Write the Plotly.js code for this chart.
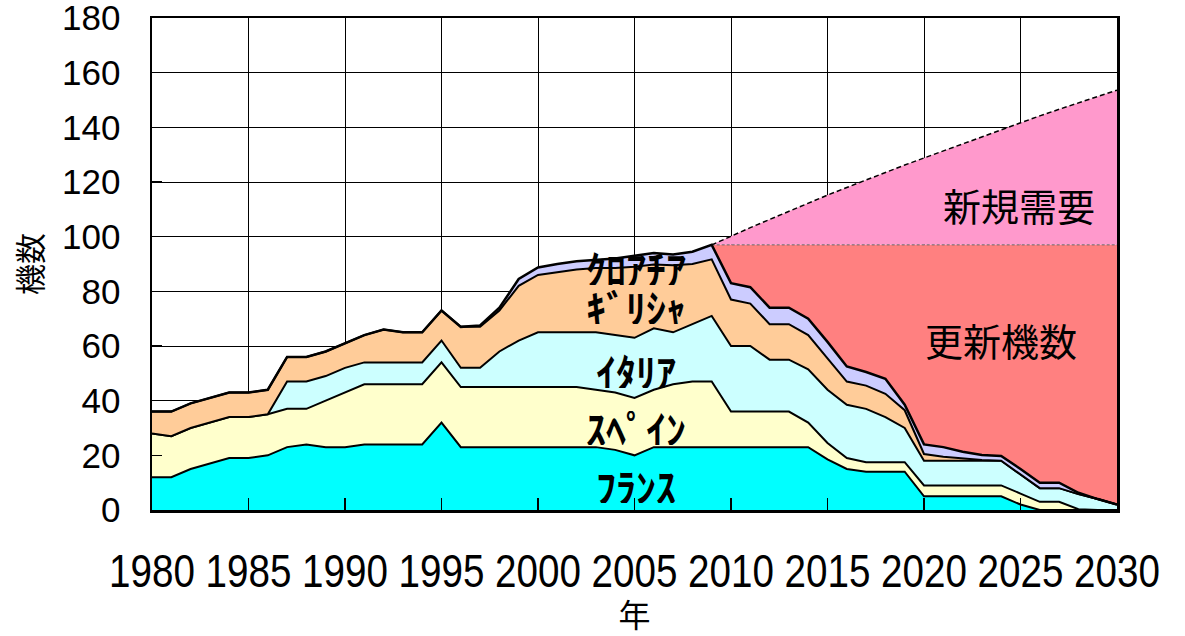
<!DOCTYPE html>
<html>
<head>
<meta charset="utf-8">
<script src="https://cdn.plot.ly/plotly-3.0.1.min.js"></script>
<style>
  html, body { margin: 0; padding: 0; background: #ffffff; }
  #chart { width: 1185px; height: 636px; }
</style>
</head>
<body>
<div id="chart"></div>
<script>
// ---- data ----
const years = [1980,1981,1982,1983,1984,1985,1986,1987,1988,1989,
               1990,1991,1992,1993,1994,1995,1996,1997,1998,1999,
               2000,2001,2002,2003,2004,2005,2006,2007,2008,2009,
               2010,2011,2012,2013,2014,2015,2016,2017,2018,2019,
               2020,2021,2022,2023,2024,2025,2026,2027,2028,2029,2030];

const france  = [12,12,15,17,19,19,20,23,24,23,
                 23,24,24,24,24,32,23,23,23,23,
                 23,23,23,23,22,20,23,23,23,23,
                 23,23,23,23,23,18.5,15,14,14,14,
                 5,5,5,5,5,2,0,0,0,0,0];
const spain   = [16,15,15,15,15,15,15,14,13,17,
                 20,22,22,22,22,22,22,22,22,22,
                 22,22,22,21,21,21,21,23,24,24,
                 13,13,13,13,9,6,4,3.5,3.5,3.5,
                 4,4,4,4,4,4,3,3,0.3,0,0];
const italy   = [0,0,0,0,0,0,0,10,10,9,
                 9,8,8,8,8,8,7,7,13,17,
                 20,20,20,21,21,22,22.5,19,21,24,
                 24,24,19,19,19.5,19.5,19.5,19.5,16.5,12.5,
                 9,9,9,9,9,7,5,5,5.5,4,2];
const greece  = [8,9,9,9,9,9,9,9,9,9,
                 9,10,12,11,11,11,15,15,15,20,
                 21,22,23,23.5,24.5,26,23.3,24.5,22,20.7,
                 17,15.5,13,13,12.5,11.5,8.5,8.5,8.5,6.5,
                 2.5,1.5,0.8,0.3,0,0,0,0,0,0,0];
const croatia = [0,0,0,0,0,0,0,0,0,0,
                 0,0,0,0,0,0,0,0.5,1,2.5,
                 2.7,3,3,3,3.5,4,4.2,4,4.5,5.3,
                 6,6,6,6,6,6,5.5,5,5.5,2,
                 3.5,3.5,2.5,1.8,1.8,2,2,2,0.5,0,0];

// projection period
const projYears = [2009,2010,2011,2012,2013,2014,2015,2016,2017,2018,2019,
                   2020,2021,2022,2023,2024,2025,2026,2027,2028,2029,2030];
const replacementLevel = 97;   // top of 更新機数
const totalDemand = [97,100.2,103.3,106.3,109.3,112.3,115.2,118,120.8,123.5,126.2,
                     128.8,131.4,134,136.6,139.2,141.8,144.2,146.6,149,151.3,153.6];

const countryNames = ['ﾌﾗﾝｽ','ｽﾍﾟｲﾝ','ｲﾀﾘｱ','ｷﾞﾘｼｬ','ｸﾛｱﾁｱ'];
const renewalName = '更新機数';
const newDemandName = '新規需要';

// ---- stacking ----
const series = [france, spain, italy, greece, croatia];
const colors = ['#00FFFF','#FFFFCC','#CCFFFF','#FFCC99','#CCCCFF'];
const cum = [];
let run = years.map(() => 0);
series.forEach(s => { run = run.map((v, i) => v + s[i]); cum.push(run.slice()); });
const total = cum[cum.length - 1];
const totalProj = projYears.map(y => total[years.indexOf(y)]);
const renewalTop = projYears.map(() => replacementLevel);

const traces = [];
traces.push({x: projYears, y: totalProj, mode: 'lines', line: {width: 0, color: 'rgba(0,0,0,0)'},
             hoverinfo: 'skip', showlegend: false});
traces.push({x: projYears, y: renewalTop, name: renewalName, mode: 'lines', fill: 'tonexty',
             fillcolor: '#FF8080', line: {color: '#666666', width: 1, dash: '3px,2px'}, showlegend: false});
traces.push({x: projYears, y: totalDemand, name: newDemandName, mode: 'lines', fill: 'tonexty',
             fillcolor: '#FF99CC', line: {color: '#000000', width: 1.5, dash: '5px,3px'}, showlegend: false});
cum.forEach((c, k) => {
  traces.push({x: years, y: c, name: countryNames[k], mode: 'lines',
               fill: k === 0 ? 'tozeroy' : 'tonexty', fillcolor: colors[k],
               line: {color: '#000000', width: k === 4 ? 2.5 : 2}, showlegend: false});
});

const cjk = '"Noto Sans CJK JP", "Noto Sans", sans-serif';
const annFont = {family: cjk, size: 40, color: '#000000', weight: 'bold'};
const annotations = [
  {x: 2005.1, y: 88.6, text: countryNames[4], font: annFont, height: 34},
  {x: 2005.1, y: 74.2, text: countryNames[3], font: annFont, height: 34},
  {x: 2005.1, y: 50.9, text: countryNames[2], font: annFont, height: 34},
  {x: 2005.1, y: 30.0, text: countryNames[1], font: annFont, height: 34},
  {x: 2005.1, y: 8.8,  text: countryNames[0], font: annFont, height: 34},
  {x: 2024.9, y: 111.6, text: newDemandName, font: {family: cjk, size: 38, color: '#000000'}},
  {x: 2024.0, y: 62.2,  text: renewalName,   font: {family: cjk, size: 38, color: '#000000'}}
].map(a => Object.assign({xref: 'x', yref: 'y', showarrow: false, xanchor: 'center', yanchor: 'middle'}, a));

const layout = {
  width: 1185, height: 636,
  margin: {l: 152, r: 68, t: 18, b: 126, pad: 0},
  paper_bgcolor: '#ffffff', plot_bgcolor: '#ffffff',
  showlegend: false,
  xaxis: {
    range: [1980, 2030], tick0: 1980, dtick: 5, tickmode: 'linear', tickangle: 0,
    showgrid: true, gridcolor: '#000000', gridwidth: 1, zeroline: false,
    ticks: 'inside', ticklen: 12, tickwidth: 1.5, tickcolor: '#000000',
    showline: true, linecolor: '#000000', linewidth: 2.5, mirror: true,
    tickfont: {family: '"Liberation Sans", Arial, sans-serif', size: 46, color: '#000000'},
    ticklabelstandoff: 19, ticklabeloverflow: 'allow',
    title: {text: '年', font: {family: cjk, size: 32, color: '#000000'}, standoff: 16}
  },
  yaxis: {
    range: [0, 180], tick0: 0, dtick: 20, tickmode: 'linear',
    showgrid: true, gridcolor: '#000000', gridwidth: 1, zeroline: false,
    ticks: 'inside', ticklen: 10, tickwidth: 1.5, tickcolor: '#000000',
    showline: true, linecolor: '#000000', linewidth: 2.5, mirror: true,
    tickfont: {family: '"Liberation Sans", Arial, sans-serif', size: 35, color: '#000000'},
    ticklabelstandoff: 22, ticklabeloverflow: 'allow',
    title: {text: '機数', font: {family: cjk, size: 31, color: '#000000'}, standoff: 10}
  },
  annotations: annotations
};

Plotly.newPlot('chart', traces, layout, {displayModeBar: false, staticPlot: true}).then(() => {
  // condense the year labels horizontally (the reference uses a narrow face)
  document.querySelectorAll('#chart .xtick text').forEach(t => {
    const x = parseFloat(t.getAttribute('x')) || 0;
    const y = parseFloat(t.getAttribute('y')) || 0;
    const tr = t.getAttribute('transform') || '';
    t.setAttribute('transform', tr + ' translate(' + x + ',' + y + ') scale(0.84,1) translate(' + (-x) + ',' + (-y) + ')');
  });
});
</script>
</body>
</html>
